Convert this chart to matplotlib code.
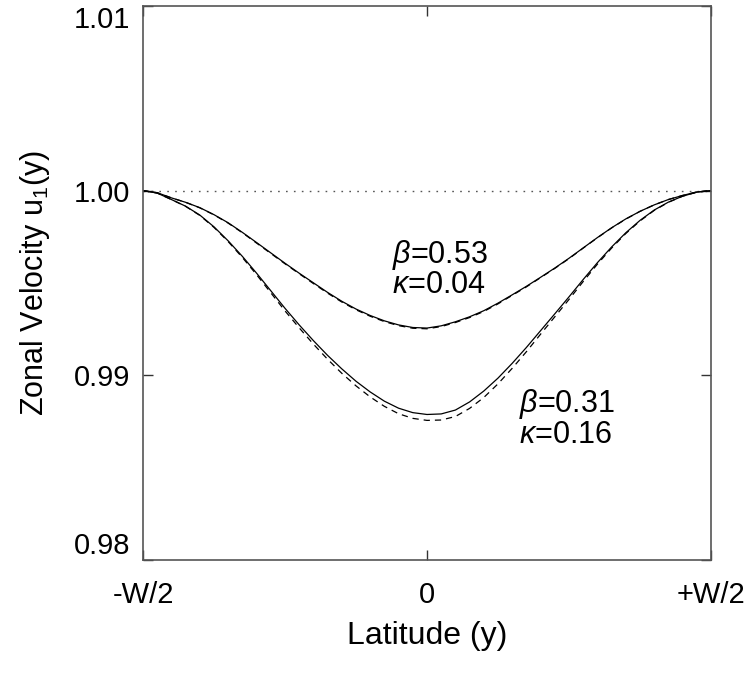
"""
Zonal velocity profiles u1(y) across the channel for two (beta, kappa)
cases. Solid lines are the full solutions, dashed lines the approximate
ones. Values read off the original figure.
"""

import numpy as np
import matplotlib.pyplot as plt

plt.rcParams['font.family'] = ['Liberation Sans', 'DejaVu Sans']
plt.rcParams['mathtext.fontset'] = 'custom'
plt.rcParams['mathtext.rm'] = 'Liberation Sans'
plt.rcParams['mathtext.it'] = 'Liberation Sans:italic'

# Latitude in units of the channel width W (-W/2 ... +W/2), step W/40
latitude = np.round(np.linspace(-0.5, 0.5, 41), 3)

# beta=0.53, kappa=0.04
u_upper_solid = [1.00000, 0.99989, 0.99961, 0.99937, 0.99908, 0.99870,
                 0.99826, 0.99774, 0.99719, 0.99663, 0.99607, 0.99553,
                 0.99501, 0.99449, 0.99401, 0.99359, 0.99324, 0.99295,
                 0.99273, 0.99259, 0.99256, 0.99268, 0.99290, 0.99317,
                 0.99350, 0.99391, 0.99436, 0.99482, 0.99531, 0.99581,
                 0.99634, 0.99690, 0.99746, 0.99799, 0.99847, 0.99888,
                 0.99923, 0.99952, 0.99974, 0.99993, 1.00000]
u_upper_dash = [1.00000, 0.99989, 0.99961, 0.99937, 0.99907, 0.99869,
                0.99824, 0.99772, 0.99716, 0.99660, 0.99604, 0.99550,
                0.99497, 0.99445, 0.99397, 0.99355, 0.99320, 0.99291,
                0.99269, 0.99255, 0.99252, 0.99264, 0.99286, 0.99313,
                0.99346, 0.99387, 0.99433, 0.99479, 0.99529, 0.99579,
                0.99632, 0.99689, 0.99745, 0.99798, 0.99846, 0.99888,
                0.99923, 0.99952, 0.99974, 0.99993, 1.00000]

# beta=0.31, kappa=0.16
u_lower_solid = [1.00000, 0.99987, 0.99952, 0.99916, 0.99868, 0.99804,
                 0.99728, 0.99644, 0.99553, 0.99458, 0.99363, 0.99273,
                 0.99188, 0.99108, 0.99035, 0.98968, 0.98910, 0.98860,
                 0.98822, 0.98798, 0.98788, 0.98791, 0.98812, 0.98856,
                 0.98915, 0.98985, 0.99065, 0.99151, 0.99242, 0.99333,
                 0.99425, 0.99519, 0.99610, 0.99695, 0.99772, 0.99839,
                 0.99895, 0.99938, 0.99970, 0.99992, 1.00000]
u_lower_dash = [1.00000, 0.99987, 0.99952, 0.99915, 0.99866, 0.99801,
                0.99724, 0.99638, 0.99545, 0.99447, 0.99349, 0.99257,
                0.99169, 0.99087, 0.99011, 0.98943, 0.98883, 0.98832,
                0.98792, 0.98767, 0.98756, 0.98758, 0.98777, 0.98821,
                0.98880, 0.98954, 0.99038, 0.99128, 0.99223, 0.99317,
                0.99411, 0.99508, 0.99602, 0.99689, 0.99768, 0.99836,
                0.99893, 0.99937, 0.99970, 0.99992, 1.00000]

x_ticks = [-0.5, 0.0, 0.5]
x_tick_labels = ['-W/2', '0', '+W/2']
y_ticks = [0.98, 0.99, 1.00, 1.01]
y_tick_labels = ['0.98', '0.99', '1.00', '1.01']

fig = plt.figure(figsize=(7.56, 6.73), dpi=100)
ax = fig.add_axes([143/756, 113/673, 568/756, 554/673])

# reference level u1 = 1
ax.plot([latitude[0], latitude[-1]], [1.0, 1.0], color='#555555',
        linewidth=1.0, linestyle=(0, (1.2, 4.5)))

ax.plot(latitude, u_upper_dash, color='black', linewidth=0.9,
        linestyle=(0, (5, 4)))
ax.plot(latitude, u_lower_dash, color='black', linewidth=0.9,
        linestyle=(0, (5, 4)))
ax.plot(latitude, u_upper_solid, color='black', linewidth=0.9)
ax.plot(latitude, u_lower_solid, color='black', linewidth=0.9)

# parameter labels
ax.text(-0.062, 0.99576, '$\\beta$=0.53\n$\\kappa$=0.04', fontsize=22,
        ha='left', va='center', linespacing=0.95)
ax.text(0.162, 0.98766, '$\\beta$=0.31\n$\\kappa$=0.16', fontsize=22,
        ha='left', va='center', linespacing=0.95)

ax.set_xlim(-0.5, 0.5)
ax.set_ylim(0.98, 1.01)
ax.set_xticks(x_ticks)
ax.set_xticklabels(x_tick_labels)
ax.set_yticks(y_ticks)
ax.set_yticklabels(y_tick_labels)

ax.tick_params(direction='in', length=7.5, width=1, top=True, right=True,
               labelsize=21, color='#333333')
ax.tick_params(axis='y', pad=9)
ax.tick_params(axis='x', pad=15)

# keep the end labels inside the figure, as in the original
ylabels = ax.get_yticklabels()
ylabels[0].set_va('bottom')
ylabels[-1].set_va('top')

for spine in ax.spines.values():
    spine.set_color('#555555')
    spine.set_linewidth(1.2)

ax.set_xlabel('Latitude (y)', fontsize=23, labelpad=9)
ax.set_ylabel('Zonal Velocity u$_1$(y)', fontsize=22, labelpad=16)

fig.savefig('out.png', dpi=100)
